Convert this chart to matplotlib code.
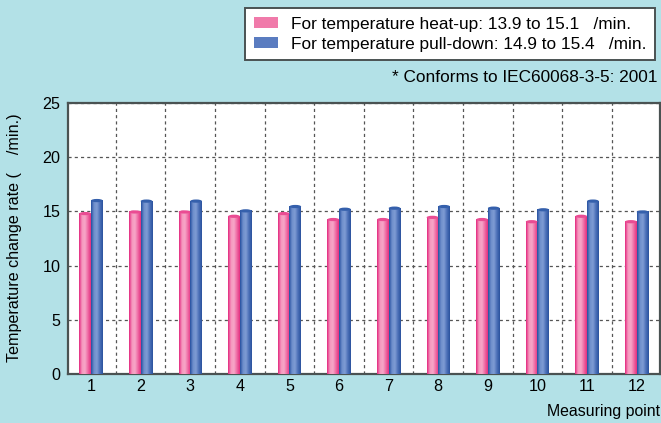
import numpy as np
import matplotlib
matplotlib.use("Agg")
import matplotlib.pyplot as plt
from matplotlib.colors import LinearSegmentedColormap
from matplotlib.patches import Patch, Ellipse

plt.rcParams['font.family'] = ['Liberation Sans', 'DejaVu Sans']

points = np.arange(1, 13)
heat_up = [14.85, 15.0, 15.0, 14.6, 14.85, 14.3, 14.3, 14.5, 14.3, 14.1, 14.6, 14.1]
pull_down = [16.05, 16.0, 16.0, 15.1, 15.5, 15.25, 15.35, 15.5, 15.35, 15.2, 16.0, 15.0]

lab_heat = 'For temperature heat-up: 13.9 to 15.1   /min.'
lab_pull = 'For temperature pull-down: 14.9 to 15.4   /min.'
note = '* Conforms to IEC60068-3-5: 2001'

bg = '#b3e1e7'
frame = '#4a5252'
fs = 11.6
fs_leg = 12.4

# colormaps for the "cylinder" look
cm_pink = LinearSegmentedColormap.from_list('p', ['#e3267e', '#f698be', '#f7a7c8', '#ef6aa4', '#e3307f'])
cm_blue = LinearSegmentedColormap.from_list('b', ['#2450a0', '#6f8fcc', '#7f9cd4', '#4c70b8', '#2a529e'])
cap_pink = '#ea4c93'
cap_blue = '#3560ac'

fig = plt.figure(figsize=(6.61, 4.23), dpi=100, facecolor=bg)
ax = fig.add_axes([68/661, 1-374/423, 592/661, 271/423])
ax.set_facecolor('white')

w = 0.235
grad = np.linspace(0, 1, 64).reshape(1, -1)


def cyl_bars(xs, vals, cmap, cap):
    bars = ax.bar(xs, vals, width=w, align='edge', color='none', edgecolor='none', zorder=3)
    for b in bars:
        x0, y0 = b.get_x(), b.get_y()
        bw, bh = b.get_width(), b.get_height()
        im = ax.imshow(grad, cmap=cmap, aspect='auto', extent=(x0, x0+bw, y0, y0+bh),
                       zorder=3, interpolation='bilinear')
        im.set_clip_path(b)
        ax.add_patch(Ellipse((x0+bw/2, y0+bh-0.05), bw, 0.3, color=cap, zorder=4, lw=0))
    return bars


cyl_bars(points - w, heat_up, cm_pink, cap_pink)
cyl_bars(points, pull_down, cm_blue, cap_blue)

ax.set_xlim(0.535, 12.47)
ax.set_ylim(0, 25)
ax.set_xticks(points)
ax.set_yticks([0, 5, 10, 15, 20, 25])
ax.set_xticks(np.arange(1.5, 12, 1), minor=True)
ax.tick_params(axis='both', which='both', length=0, labelsize=fs, colors='black')
ax.tick_params(axis='x', pad=3.5)
ax.tick_params(axis='y', pad=5.5)
ax.grid(axis='y', which='major', linestyle=(0, (2.5, 2.5)), color='#555555', lw=0.9, zorder=1)
ax.grid(axis='x', which='minor', linestyle=(0, (2.5, 2.5)), color='#555555', lw=0.9, zorder=1)
ax.grid(axis='x', which='major', visible=False)
for s in ax.spines.values():
    s.set_color(frame)
    s.set_linewidth(1.6)
ax.spines['left'].set_zorder(5)

ax.set_ylabel('Temperature change rate (    /min.)', fontsize=fs)
ax.yaxis.set_label_coords(22/661, 1 - 238/423, transform=fig.transFigure)
fig.text(660/661, 1-411/423, 'Measuring point', ha='right', va='center', fontsize=11.4)
fig.text(658/661, 1-77/423, note, ha='right', va='center', fontsize=fs_leg)

handles = [Patch(facecolor='#f07aaa', edgecolor='none'), Patch(facecolor='#5a7cc0', edgecolor='none')]
leg = fig.legend(handles, [lab_heat, lab_pull], loc='upper left',
                 bbox_to_anchor=(245/661, 1-8/423), fontsize=fs_leg, frameon=True,
                 fancybox=False, framealpha=1, handlelength=1.4, handleheight=0.55,
                 handletextpad=0.75, borderpad=0.5, labelspacing=0.3, borderaxespad=0)
leg.get_frame().set_edgecolor(frame)
leg.get_frame().set_linewidth(1.4)

fig.savefig('out.png', dpi=100, facecolor=bg)
